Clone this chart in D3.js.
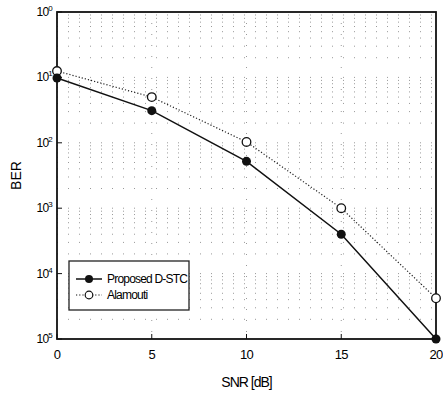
<!DOCTYPE html>
<html>
<head>
<meta charset="utf-8">
<script src="https://cdn.jsdelivr.net/npm/d3@7"></script>
<style>
  body { margin: 0; background: #fff; }
  svg { font-family: "Liberation Sans", Arial, sans-serif; }
</style>
</head>
<body>
<div id="chart"></div>
<script>
// data
const snr = [0, 5, 10, 15, 20];
const berProposed = [0.098, 0.031, 0.0052, 0.0004, 0.00001];
const berAlamouti = [0.125, 0.05, 0.0103, 0.001, 0.000042];
const xTicks = [0, 5, 10, 15, 20];
const yTicks = [1, 1e-1, 1e-2, 1e-3, 1e-4, 1e-5];
const yTickSup = ["0", "1", "2", "3", "4", "5"];

const width = 443, height = 397;
const margin = { top: 12, right: 7, bottom: 58, left: 57 };

const svg = d3.select("#chart").append("svg")
  .attr("width", width)
  .attr("height", height);

const x = d3.scaleLinear().domain([0, 20]).range([margin.left, width - margin.right]);
const y = d3.scaleLog().domain([1e-5, 1]).range([height - margin.bottom, margin.top]);

// dotted grid (faint, like the scan)
const minor = [];
for (let e = -5; e < 0; e++) {
  for (let m = 2; m <= 9; m++) minor.push(m * Math.pow(10, e));
}
svg.append("g").selectAll("line.hg")
  .data(minor.concat(yTicks.slice(1, -1)))
  .enter().append("line")
  .attr("x1", x(0)).attr("x2", x(20))
  .attr("y1", d => y(d)).attr("y2", d => y(d))
  .attr("stroke", "#999")
  .attr("stroke-width", 1)
  .attr("stroke-dasharray", "1,10");

svg.append("g").selectAll("line.vg")
  .data(xTicks.slice(1, -1))
  .enter().append("line")
  .attr("x1", d => x(d)).attr("x2", d => x(d))
  .attr("y1", y(1)).attr("y2", y(1e-5))
  .attr("stroke", "#999")
  .attr("stroke-width", 1)
  .attr("stroke-dasharray", "1,10");

// frame
svg.append("rect")
  .attr("x", x(0)).attr("y", y(1))
  .attr("width", x(20) - x(0)).attr("height", y(1e-5) - y(1))
  .attr("fill", "none")
  .attr("stroke", "#111")
  .attr("stroke-width", 1.8);

// x ticks
const xt = svg.append("g");
xt.selectAll("line").data(xTicks).enter().append("line")
  .attr("x1", d => x(d)).attr("x2", d => x(d))
  .attr("y1", y(1e-5)).attr("y2", y(1e-5) - 5)
  .attr("stroke", "#111");
xt.selectAll("text").data(xTicks).enter().append("text")
  .attr("x", d => x(d)).attr("y", y(1e-5) + 20)
  .attr("text-anchor", "middle")
  .attr("font-size", 13)
  .attr("letter-spacing", -0.8)
  .attr("fill", "#000")
  .text(d => d);

// y ticks
const yt = svg.append("g");
yt.selectAll("line").data(yTicks).enter().append("line")
  .attr("x1", x(0)).attr("x2", x(0) + 5)
  .attr("y1", d => y(d)).attr("y2", d => y(d))
  .attr("stroke", "#111");
const ylab = yt.selectAll("text").data(yTicks).enter().append("text")
  .attr("x", x(0) - 5).attr("y", d => y(d) + 4)
  .attr("text-anchor", "end")
  .attr("font-size", 12)
  .attr("letter-spacing", -0.8)
  .attr("fill", "#000");
ylab.append("tspan").text("10");
ylab.append("tspan")
  .attr("dy", -5)
  .attr("font-size", 8)
  .text((d, i) => yTickSup[i]);

// axis titles
svg.append("text")
  .attr("x", x(10)).attr("y", 387)
  .attr("text-anchor", "middle")
  .attr("font-size", 14)
  .attr("letter-spacing", -1)
  .attr("fill", "#000")
  .text("SNR [dB]");
svg.append("text")
  .attr("transform", `translate(21,${(y(1) + y(1e-5)) / 2}) rotate(-90)`)
  .attr("text-anchor", "middle")
  .attr("font-size", 14)
  .attr("fill", "#000")
  .text("BER");

// series
const line = d3.line()
  .x(d => x(d[0]))
  .y(d => y(d[1]));

const propData = snr.map((s, i) => [s, berProposed[i]]);
const alamData = snr.map((s, i) => [s, berAlamouti[i]]);

svg.append("path")
  .datum(alamData)
  .attr("d", line)
  .attr("fill", "none")
  .attr("stroke", "#222")
  .attr("stroke-width", 1.2)
  .attr("stroke-dasharray", "1.2,2");

svg.append("path")
  .datum(propData)
  .attr("d", line)
  .attr("fill", "none")
  .attr("stroke", "#111")
  .attr("stroke-width", 1.5);

svg.append("g").selectAll("circle")
  .data(alamData)
  .enter().append("circle")
  .attr("cx", d => x(d[0])).attr("cy", d => y(d[1]))
  .attr("r", 4.3)
  .attr("fill", "#fff")
  .attr("stroke", "#111")
  .attr("stroke-width", 1.3);

svg.append("g").selectAll("circle")
  .data(propData)
  .enter().append("circle")
  .attr("cx", d => x(d[0])).attr("cy", d => y(d[1]))
  .attr("r", 4.5)
  .attr("fill", "#111");

// legend
const lg = svg.append("g").attr("transform", "translate(69,261)");
lg.append("rect")
  .attr("width", 120).attr("height", 49)
  .attr("fill", "#fff")
  .attr("stroke", "#222")
  .attr("stroke-width", 1.3);
const items = [
  { name: "Proposed D-STC", filled: true },
  { name: "Alamouti", filled: false }
];
items.forEach((it, i) => {
  const yy = 18 + i * 16;
  lg.append("line")
    .attr("x1", 7).attr("x2", 33)
    .attr("y1", yy).attr("y2", yy)
    .attr("stroke", "#111")
    .attr("stroke-width", it.filled ? 1.5 : 1.2)
    .attr("stroke-dasharray", it.filled ? null : "1.2,2");
  lg.append("circle")
    .attr("cx", 20).attr("cy", yy)
    .attr("r", it.filled ? 4 : 3.8)
    .attr("fill", it.filled ? "#111" : "#fff")
    .attr("stroke", "#111")
    .attr("stroke-width", it.filled ? 0 : 1.2);
  lg.append("text")
    .attr("x", 38).attr("y", yy + 4)
    .attr("font-size", 12)
    .attr("fill", "#000")
    .attr("letter-spacing", -0.8)
    .text(it.name);
});
</script>
</body>
</html>
